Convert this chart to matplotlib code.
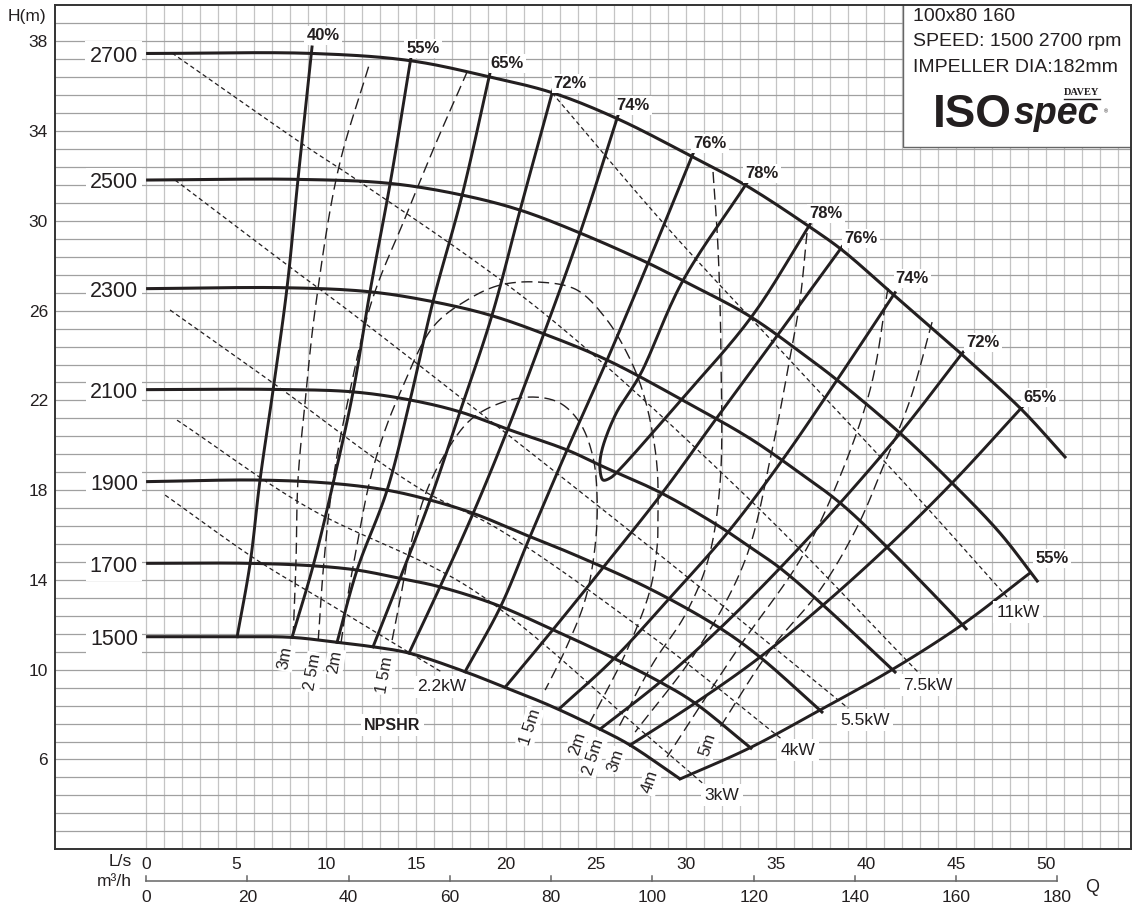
import matplotlib
matplotlib.use('Agg')
import matplotlib.pyplot as plt
import numpy as np
from matplotlib.patches import Rectangle
import matplotlib.transforms as mtransforms

plt.rcParams['font.family'] = ['Liberation Sans', 'DejaVu Sans']

# ---------------- data (Q in L/s, H in m) ----------------
speeds = [1500, 1700, 1900, 2100, 2300, 2500, 2700]

q_1500 = [0, 5.06, 8.11, 10.61, 12.61, 14.61, 17.72, 19.94, 22.44, 25.22, 26.89, 29.67]
h_1500 = [11.47, 11.47, 11.44, 11.22, 11.02, 10.74, 9.91, 9.21, 8.40, 7.35, 6.64, 5.13]
q_1700 = [0, 5.78, 9.28, 11.72, 14.11, 16.33, 19.5, 22.6, 25.06, 28.56, 30.5, 33.67]
h_1700 = [14.74, 14.74, 14.63, 14.44, 14.07, 13.69, 12.88, 11.78, 10.87, 9.45, 8.51, 6.46]
q_1900 = [0, 6.33, 10.39, 13.39, 15.78, 18.17, 21.17, 23.72, 28.0, 31.89, 34.11, 37.61]
h_1900 = [18.38, 18.45, 18.30, 18.00, 17.56, 16.97, 15.98, 15.15, 13.60, 11.85, 10.56, 8.07]
q_2100 = [0, 7.06, 11.5, 14.67, 17.44, 20.22, 23.39, 25.39, 28.56, 31.72, 33.56, 35.22, 37.61, 41.67]
h_2100 = [22.48, 22.49, 22.38, 22.02, 21.49, 20.68, 19.79, 19.05, 17.90, 16.45, 15.46, 14.53, 12.88, 9.85]
q_2300 = [0, 7.83, 12.44, 15.94, 19.11, 22.28, 25.61, 30.06, 33.56, 36.33, 38.56, 41.17, 45.22, 45.61]
h_2300 = [26.98, 27.02, 26.84, 26.40, 25.80, 24.91, 23.80, 21.90, 20.30, 18.76, 17.43, 15.46, 12.12, 11.77]
q_2500 = [0, 8.44, 13.56, 17.56, 20.78, 24.11, 27.89, 29.78, 33.44, 36.72, 38.39, 41.89, 44.78, 47.44, 49.56]
h_2500 = [31.82, 31.85, 31.67, 31.15, 30.48, 29.46, 28.12, 27.35, 25.80, 23.93, 22.91, 20.54, 18.32, 16.09, 13.90]
q_2700 = [0, 9.28, 14.67, 19.06, 22.61, 26.22, 30.39, 33.39, 36.89, 38.67, 41.61, 45.39, 48.67, 51.11]
h_2700 = [37.46, 37.46, 37.14, 36.42, 35.70, 34.54, 32.84, 31.55, 29.72, 28.70, 26.65, 24.00, 21.57, 19.43]

# iso-efficiency lines
eff_40_q = [5.06, 5.78, 6.33, 7.06, 7.83, 8.44, 9.22]
eff_40_h = [11.47, 14.74, 18.45, 22.49, 27.02, 31.85, 37.75]
eff_55l_q = [8.11, 9.28, 10.39, 11.5, 12.44, 13.56, 14.72]
eff_55l_h = [11.44, 14.63, 18.30, 22.38, 26.84, 31.67, 37.30]
eff_65l_q = [10.61, 11.72, 13.39, 14.67, 15.94, 17.56, 19.11]
eff_65l_h = [11.22, 14.44, 18.00, 22.02, 26.40, 31.15, 36.60]
eff_72l_q = [12.61, 14.11, 15.78, 17.44, 19.22, 20.78, 22.61]
eff_72l_h = [11.02, 14.07, 17.56, 21.49, 25.80, 30.48, 35.85]
eff_74l_q = [14.61, 16.33, 18.17, 20.1, 22.1, 24.11, 26.22]
eff_74l_h = [10.74, 13.69, 16.97, 20.73, 24.97, 29.46, 34.70]
eff_76l_q = [17.72, 19.7, 21.3, 23.39, 25.61, 27.89, 30.39]
eff_76l_h = [9.91, 12.82, 15.87, 19.79, 23.80, 28.12, 33.00]
eff_78_q = [33.39, 29.78, 27.44, 26.1, 25.3, 25.22, 25.39, 25.78, 26.17, 29.72, 33.67, 36.89]
eff_78_h = [31.70, 27.27, 23.13, 21.40, 19.70, 18.90, 18.45, 18.54, 18.81, 22.02, 25.76, 29.85]
eff_76r_q = [19.94, 22.6, 25.5, 28.7, 31.7, 35.06, 38.67]
eff_76r_h = [9.21, 11.78, 14.66, 17.90, 21.21, 24.88, 28.85]
eff_74r_q = [23.0, 26.0, 29.1, 32.4, 35.4, 38.39, 41.61]
eff_74r_h = [8.29, 10.50, 13.20, 16.20, 19.40, 22.91, 26.80]
eff_72r_q = [25.22, 28.56, 31.89, 35.22, 38.56, 41.89, 45.39]
eff_72r_h = [7.35, 9.45, 11.85, 14.53, 17.43, 20.54, 24.15]
eff_65r_q = [26.89, 30.5, 34.11, 37.61, 41.17, 44.78, 48.67]
eff_65r_h = [6.64, 8.51, 10.56, 12.88, 15.46, 18.32, 21.70]
eff_55r_q = [29.67, 33.5, 37.44, 41.44, 45.33, 49.11]
eff_55r_h = [5.13, 6.50, 8.20, 10.00, 12.00, 14.31]

eff_labels = ['40%', '55%', '65%', '72%', '74%', '76%', '78%', '78%', '76%', '74%', '72%', '65%', '55%']

# power lines
p22_q = [1.06, 6.17, 9.83, 14.67, 16.44]
p22_h = [17.78, 14.88, 13.10, 10.74, 9.89]
p3_q = [1.72, 8.94, 18.17, 28.0, 31.17]
p3_h = [21.12, 17.25, 13.55, 6.95, 4.77]
p4_q = [1.33, 7.06, 15.06, 19.67, 28.0, 35.39]
p4_h = [26.03, 22.77, 18.14, 16.22, 11.54, 6.86]
p55_q = [1.61, 8.0, 11.72, 28.0, 39.0]
p55_h = [31.82, 27.94, 25.71, 15.46, 8.29]
p75_q = [1.44, 8.94, 11.72, 21.89, 33.56, 42.89]
p75_h = [37.48, 33.29, 31.82, 26.02, 17.56, 9.89]
p11_q = [22.56, 28.94, 35.61, 43.0, 47.83]
p11_h = [35.70, 29.72, 23.93, 17.56, 13.24]
power_labels = ['2.2kW', '3kW', '4kW', '5.5kW', '7.5kW', '11kW']

# NPSHR lines
n3l_q = [8.17, 8.33, 8.44, 8.83, 9.39, 10.67, 12.44]
n3l_h = [11.45, 14.88, 18.45, 21.88, 26.03, 32.26, 37.08]
n25l_q = [9.56, 9.89, 10.39, 11.22, 12.56, 14.39, 16.06, 17.83]
n25l_h = [11.28, 14.88, 18.45, 22.01, 26.47, 30.13, 33.38, 36.63]
n2_q = [10.83, 11.17, 11.67, 12.44, 13.28, 14.11, 15.94, 17.83, 19.67, 21.89, 23.94, 25.61,
        26.72, 27.44, 28.0, 28.39, 28.44, 28.39, 28.0, 26.72, 24.67]
n2_h = [11.19, 13.10, 15.33, 18.45, 20.68, 22.33, 25.27, 26.47, 27.14, 27.27, 26.92, 25.58,
        24.11, 22.77, 21.12, 19.03, 16.80, 15.46, 13.55, 10.87, 7.67]
n15_q = [13.67, 14.11, 14.67, 15.5, 16.5, 18.0, 19.67, 21.5, 23.0, 24.11, 24.83, 25.06,
         24.94, 24.39, 23.28, 22.17]
n15_h = [11.32, 13.10, 15.46, 17.78, 19.47, 21.12, 21.88, 22.15, 21.88, 20.99, 19.47, 17.56,
         15.46, 13.10, 10.87, 9.09]
n25r_q = [31.5, 31.78, 31.94, 31.89, 31.22, 29.94, 28.17, 26.17]
n25r_h = [32.18, 28.70, 23.93, 18.32, 14.88, 12.43, 10.29, 7.31]
n3r_q = [36.72, 36.33, 35.78, 34.78, 33.28, 30.61, 27.17]
n3r_h = [29.46, 26.47, 23.93, 19.79, 14.88, 10.87, 7.22]
n4_q = [41.22, 40.22, 38.17, 36.33, 32.83, 28.94]
n4_h = [27.01, 22.46, 17.87, 14.88, 10.87, 6.11]
n5_q = [43.67, 42.44, 40.94, 39.5, 37.44, 34.67, 31.89]
n5_h = [25.49, 22.01, 19.03, 16.35, 13.55, 10.87, 7.44]
npsh_left_labels = ['3m', '2 5m', '2m', '1 5m']
npsh_right_labels = ['1 5m', '2m', '2 5m', '3m', '4m', '5m']

# axes ticks
h_ticks = [6, 10, 14, 18, 22, 26, 30, 34, 38]
ls_ticks = [0, 5, 10, 15, 20, 25, 30, 35, 40, 45, 50]
m3h_ticks = [0, 20, 40, 60, 80, 100, 120, 140, 160, 180]
M3H_PER_LS = 3.555  # printed m3/h scale relative to the L/s scale


# ---------------- helpers ----------------
SX, SY = 18.0, 22.44  # approximate px per unit, for isotropic smoothing


def smooth(xs, ys, n=16):
    """Centripetal Catmull-Rom curve through the read points (rendering only)."""
    P = np.column_stack([np.asarray(xs, float) * SX, np.asarray(ys, float) * SY])
    if len(P) < 3:
        return xs, ys
    P = np.vstack([2 * P[0] - P[1], P, 2 * P[-1] - P[-2]])
    out = []
    for i in range(1, len(P) - 2):
        p0, p1, p2, p3 = P[i - 1], P[i], P[i + 1], P[i + 2]
        t0 = 0.0
        t1 = t0 + max(np.linalg.norm(p1 - p0), 1e-6) ** 0.5
        t2 = t1 + max(np.linalg.norm(p2 - p1), 1e-6) ** 0.5
        t3 = t2 + max(np.linalg.norm(p3 - p2), 1e-6) ** 0.5
        t = np.linspace(t1, t2, n, endpoint=False)[:, None]
        A1 = (t1 - t) / (t1 - t0) * p0 + (t - t0) / (t1 - t0) * p1
        A2 = (t2 - t) / (t2 - t1) * p1 + (t - t1) / (t2 - t1) * p2
        A3 = (t3 - t) / (t3 - t2) * p2 + (t - t2) / (t3 - t2) * p3
        B1 = (t2 - t) / (t2 - t0) * A1 + (t - t0) / (t2 - t0) * A2
        B2 = (t3 - t) / (t3 - t1) * A2 + (t - t1) / (t3 - t1) * A3
        C = (t2 - t) / (t2 - t1) * B1 + (t - t1) / (t2 - t1) * B2
        out.append(C)
    out.append(P[-2][None, :])
    C = np.vstack(out)
    return C[:, 0] / SX, C[:, 1] / SY


# ---------------- drawing ----------------
INK = '#231f20'
fig = plt.figure(figsize=(11.32, 9.06), dpi=100)
ax = fig.add_axes([55 / 1132, 57 / 906, 1076 / 1132, 844 / 906])
ax.set_xlim(-5.06, 54.72)
ax.set_ylim(2.01, 39.62)

for q in np.arange(0, 55, 1):
    ax.axvline(q, color='#c4c4c4', lw=0.9, zorder=0)
for h in np.arange(2.8, 39.4, 0.8):
    ax.axhline(h, color='#a0a0a0', lw=0.9, zorder=0)

for s in ax.spines.values():
    s.set_color('#333333')
    s.set_linewidth(1.4)

ax.set_yticks(h_ticks)
ax.set_yticklabels([str(t) for t in h_ticks])
ax.set_xticks(ls_ticks)
ax.set_xticklabels([str(t) for t in ls_ticks])
ax.tick_params(axis='y', length=0, pad=5, labelsize=12.5, labelcolor=INK)
ax.tick_params(axis='x', length=0, pad=6, labelsize=12.5, labelcolor=INK)

# info box
ax.add_patch(Rectangle((0.788, 0.8318), 0.25, 0.2, transform=ax.transAxes,
                       facecolor='white', edgecolor='#666666', lw=1.0, zorder=1))

# speed curves
curves_q = [q_1500, q_1700, q_1900, q_2100, q_2300, q_2500, q_2700]
curves_h = [h_1500, h_1700, h_1900, h_2100, h_2300, h_2500, h_2700]
for sp, qq, hh in zip(speeds, curves_q, curves_h):
    xs, ys = smooth(qq, hh)
    ax.plot(xs, ys, color=INK, lw=2.2, zorder=3, solid_capstyle='butt')
    ax.text(-0.45, hh[0] - 0.12, str(sp), ha='right', va='center', fontsize=15.5,
            color=INK, zorder=4,
            bbox=dict(boxstyle='square,pad=0.2', fc='white', ec='none'))

# efficiency lines
eff_q = [eff_40_q, eff_55l_q, eff_65l_q, eff_72l_q, eff_74l_q, eff_76l_q, eff_78_q,
         eff_76r_q, eff_74r_q, eff_72r_q, eff_65r_q, eff_55r_q]
eff_h = [eff_40_h, eff_55l_h, eff_65l_h, eff_72l_h, eff_74l_h, eff_76l_h, eff_78_h,
         eff_76r_h, eff_74r_h, eff_72r_h, eff_65r_h, eff_55r_h]
for qq, hh in zip(eff_q, eff_h):
    xs, ys = smooth(qq, hh)
    ax.plot(xs, ys, color=INK, lw=2.1, zorder=3, solid_joinstyle='round')

eff_label_pos = [(9.83, 38.24), (15.39, 37.66), (20.06, 37.03), (23.56, 36.14),
                 (27.06, 35.12), (31.33, 33.47), (34.22, 32.13), (37.78, 30.35),
                 (39.72, 29.23), (42.56, 27.45), (46.5, 24.60), (49.67, 22.15),
                 (50.33, 14.97)]
for lab, (x, y) in zip(eff_labels, eff_label_pos):
    ax.text(x, y, lab, ha='center', va='center', fontsize=12, fontweight='bold',
            color=INK, zorder=5,
            bbox=dict(boxstyle='square,pad=0.12', fc='white', ec='none'))

# power lines
pw_q = [p22_q, p3_q, p4_q, p55_q, p75_q, p11_q]
pw_h = [p22_h, p3_h, p4_h, p55_h, p75_h, p11_h]
for qq, hh in zip(pw_q, pw_h):
    xs, ys = smooth(qq, hh)
    ax.plot(xs, ys, color=INK, lw=0.9, ls=(0, (3.5, 2.5)), zorder=2)
pw_label_pos = [(16.44, 9.23), (32.0, 4.41), (36.22, 6.42), (39.94, 7.75),
                (43.44, 9.31), (48.44, 12.57)]
for lab, (x, y) in zip(power_labels, pw_label_pos):
    ax.text(x, y, lab, ha='center', va='center', fontsize=12.5, color=INK, zorder=5,
            bbox=dict(boxstyle='square,pad=0.2', fc='white', ec='none'))

# NPSHR lines
np_q = [n3l_q, n25l_q, n2_q, n15_q, n25r_q, n3r_q, n4_q, n5_q]
np_h = [n3l_h, n25l_h, n2_h, n15_h, n25r_h, n3r_h, n4_h, n5_h]
for qq, hh in zip(np_q, np_h):
    xs, ys = smooth(qq, hh)
    ax.plot(xs, ys, color=INK, lw=1.0, ls=(0, (8, 4)), zorder=2)

npl_pos = [(7.72, 10.52), (9.28, 9.89), (10.5, 10.34), (13.28, 9.76)]
for lab, (x, y) in zip(npsh_left_labels, npl_pos):
    ax.text(x, y, lab, ha='center', va='center', fontsize=12, rotation=80, color=INK,
            zorder=5, bbox=dict(boxstyle='square,pad=0.1', fc='white', ec='none'))
npr_pos = [(21.33, 7.44), (23.94, 6.73), (24.83, 6.11), (26.06, 5.97), (28.0, 5.0),
           (31.22, 6.64)]
for lab, (x, y) in zip(npsh_right_labels, npr_pos):
    ax.text(x, y, lab, ha='center', va='center', fontsize=12, rotation=72, color=INK,
            zorder=5, bbox=dict(boxstyle='square,pad=0.1', fc='white', ec='none'))

ax.text(13.67, 7.53, 'NPSHR', ha='center', va='center', fontsize=11.5,
        fontweight='bold', color=INK, zorder=5,
        bbox=dict(boxstyle='square,pad=0.2', fc='white', ec='none'))

# info text and logo
ax.text(0.7974, 0.9858, '100x80 160', transform=ax.transAxes, fontsize=14,
        va='center', ha='left', color=INK, zorder=5)
ax.text(0.7974, 0.9562, 'SPEED: 1500 2700 rpm', transform=ax.transAxes, fontsize=14,
        va='center', ha='left', color=INK, zorder=5)
ax.text(0.7974, 0.9265, 'IMPELLER DIA:182mm', transform=ax.transAxes, fontsize=14,
        va='center', ha='left', color=INK, zorder=5)
ax.text(0.8160, 0.8560, 'ISO', transform=ax.transAxes, fontsize=33, fontweight='bold',
        va='baseline', ha='left', color=INK, zorder=5)
ax.text(0.8905, 0.8590, 'spec', transform=ax.transAxes, fontsize=27, fontweight='bold',
        fontstyle='italic', va='baseline', ha='left', color=INK, zorder=5)
ax.text(0.9545, 0.8965, 'DAVEY', transform=ax.transAxes, fontsize=7.5, fontweight='bold',
        family=['Liberation Serif', 'DejaVu Serif'], va='center', ha='center',
        color=INK, zorder=5)
ax.plot([0.938, 0.971], [0.8890, 0.8890], transform=ax.transAxes, color=INK, lw=1.0,
        zorder=5)
ax.text(0.9750, 0.8730, '®', transform=ax.transAxes, fontsize=4, va='center',
        ha='left', color=INK, zorder=5)

# axis captions
fig.text(27 / 1132, 1 - 17 / 906, 'H(m)', ha='center', va='center', fontsize=12.5,
         color=INK)
fig.text(132 / 1132, 1 - 862 / 906, 'L/s', ha='right', va='center', fontsize=12.5,
         color=INK)
fig.text(132 / 1132, 1 - 882 / 906, 'm³/h', ha='right', va='center', fontsize=12.5,
         color=INK)
fig.text(1092 / 1132, 1 - 888 / 906, 'Q', ha='center', va='center', fontsize=13,
         color=INK)

# m3/h scale line
trans = mtransforms.blended_transform_factory(ax.transData, ax.transAxes)
m3_pos = [m / M3H_PER_LS for m in m3h_ticks]
ax.plot([m3_pos[0], m3_pos[-1]], [-0.0379, -0.0379], transform=trans, color='#666666',
        lw=1.1, clip_on=False)
for p, m in zip(m3_pos, m3h_ticks):
    ax.plot([p, p], [-0.0379, -0.0318], transform=trans, color='#666666', lw=1.1,
            clip_on=False)
    ax.text(p, -0.0575, str(m), transform=trans, ha='center', va='center',
            fontsize=12.5, color=INK)

fig.savefig('out.png', dpi=100)
